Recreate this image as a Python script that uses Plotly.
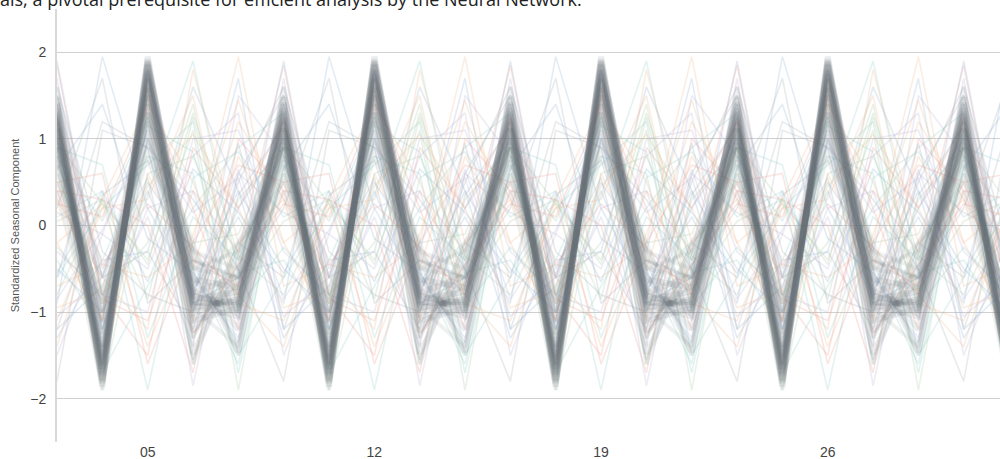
import plotly.graph_objects as go
import pandas as pd

# Trading days shown on the axis (weekends are skipped by a range break)
trade_days = [
    "2018-03-01", "2018-03-02", "2018-03-05", "2018-03-06", "2018-03-07",
    "2018-03-08", "2018-03-09", "2018-03-12", "2018-03-13", "2018-03-14",
    "2018-03-15", "2018-03-16", "2018-03-19", "2018-03-20", "2018-03-21",
    "2018-03-22", "2018-03-23", "2018-03-26", "2018-03-27", "2018-03-28",
    "2018-03-29", "2018-03-30",
]
tick_days = ["2018-03-05", "2018-03-12", "2018-03-19", "2018-03-26"]

# Weekly seasonal profiles, one row per series: [Mon, Tue, Wed, Thu, Fri]
core_profiles = [
    [1.92, -0.88, -0.92, 1.35, -1.78],
    [1.85, -0.80, -0.98, 1.28, -1.72],
    [1.78, -0.95, -0.85, 1.40, -1.65],
    [1.88, -1.02, -0.80, 1.18, -1.82],
    [1.70, -0.75, -1.02, 1.22, -1.60],
    [1.62, -0.86, -0.76, 1.10, -1.52],
    [1.80, -1.48, -0.42, 1.25, -1.70],
    [1.68, -0.38, -1.46, 1.12, -1.62],
    [1.50, -0.82, -0.90, 1.02, -1.40],
    [1.95, -0.92, -1.05, 1.48, -1.86],
    [1.40, -0.62, -0.72, 0.95, -1.25],
    [1.58, -1.22, -0.62, 1.32, -1.55],
    [1.86, -0.60, -1.20, 1.05, -1.74],
    [1.30, -0.78, -0.58, 1.12, -1.12],
    [1.74, -0.90, -0.88, 0.90, -1.66],
    [1.90, -1.10, -0.95, 1.42, -1.80],
]

near_core_profiles = [
    [1.20, -0.40, -0.60, 0.70, -0.90],
    [1.00, -0.50, -0.30, 0.80, -1.00],
    [1.45, -0.30, -1.00, 0.60, -1.10],
    [0.90, -0.70, -0.20, 0.50, -0.60],
    [1.60, -1.60, -0.20, 0.90, -1.50],
    [1.30, -0.20, -1.50, 1.20, -1.40],
    [1.75, -0.50, -0.60, 0.40, -1.45],
    [1.10, -0.90, -0.90, 1.50, -1.30],
    [0.80, -0.30, -0.50, 1.00, -1.00],
    [1.90, -1.30, -0.30, 0.75, -1.90],
    [1.55, -0.95, -1.40, 1.60, -0.80],
    [1.25, -1.10, -0.70, 1.30, -1.60],
]

other_profiles = [
    [0.35, 1.90, -0.55, -0.40, -1.20],
    [-0.60, -0.20, 1.95, -0.70, -0.45],
    [-1.10, 0.40, -0.30, 1.85, -0.85],
    [0.20, -0.75, 0.10, -0.90, 1.95],
    [1.20, -1.85, 0.60, 0.15, -0.10],
    [-0.40, 1.10, -1.90, 0.95, 0.25],
    [0.90, 0.30, -0.50, -1.80, 1.10],
    [-1.90, 0.55, 0.85, 0.10, 0.40],
    [0.60, -0.50, 1.20, 0.30, -1.60],
    [1.50, 0.20, -1.20, 0.40, -0.90],
    [-0.30, 1.60, 0.40, -1.30, -0.40],
    [0.10, -1.40, 1.50, 0.80, -1.00],
    [1.00, -0.20, -0.10, 1.10, -1.80],
    [-0.80, -1.00, 0.50, 1.60, -0.30],
    [0.70, 1.20, -1.50, -0.60, 0.20],
    [-1.20, 1.80, -0.20, 0.30, -0.60],
    [1.70, -0.40, -0.70, 0.50, -1.10],
    [0.40, -0.90, -0.60, 1.90, -0.80],
    [-0.50, 0.80, 1.30, -1.50, -0.10],
    [1.30, -1.60, 0.30, 0.90, -0.90],
    [-0.90, -0.40, -0.60, 0.20, 1.70],
    [0.80, 0.60, -1.70, 0.70, -0.40],
    [1.60, -1.10, 0.80, -0.20, -1.10],
    [-1.50, 0.90, 0.20, 1.20, -0.80],
    [0.50, -0.30, 1.70, -1.20, -0.70],
    [1.10, -0.60, -1.30, 1.40, -0.60],
    [-0.20, 1.40, -1.00, 0.60, -0.80],
    [0.90, -1.30, -0.20, -0.60, 1.20],
    [-0.70, 0.20, 0.90, 1.30, -1.70],
    [1.40, 0.50, -0.80, -1.40, 0.30],
    [0.00, -1.70, 1.00, 0.40, 0.30],
    [1.80, -0.70, 0.40, -0.50, -1.00],
    [-1.00, 1.00, 1.10, -0.30, -0.80],
    [0.60, 0.80, -0.40, 0.90, -1.90],
    [-0.30, -1.20, 0.60, 1.50, -0.60],
    [1.25, -0.50, -1.60, 0.80, 0.05],
    [0.30, 1.50, -0.90, -1.10, 0.20],
    [-1.60, -0.20, 0.70, 0.50, 0.60],
    [1.00, -1.00, 0.20, 1.00, -1.20],
    [0.20, 0.40, -1.10, 1.70, -1.20],
    [-0.45, 1.30, -0.35, -0.80, 0.30],
    [0.75, -0.85, 0.95, -1.20, 0.35],
    [-1.30, 0.10, -0.40, 0.90, 0.70],
    [0.45, 1.05, 0.20, -0.95, -0.75],
    [1.35, -1.25, -0.45, 0.25, 0.10],
    [-0.15, -0.55, -1.35, 0.65, 1.40],
    [0.95, 0.15, 0.55, -1.05, -0.60],
    [-0.85, 1.25, -0.75, 0.05, 0.30],
    [0.55, -1.55, 0.35, 1.15, -0.50],
    [1.15, 0.85, -0.95, -0.25, -0.85],
    [-1.40, -0.10, 1.45, -0.20, 0.25],
    [0.25, -0.25, -0.80, 1.25, -0.45],
    [-0.65, 0.65, 0.15, -0.55, 0.40],
    [1.05, -0.80, 0.65, -0.85, -0.05],
]

other_colors = ["#8ecfc9", "#f4b88a", "#ef9a8e", "#8fb3d3", "#b9b1d8", "#a9c9a4", "#a3acb3"]
core_color = "rgba(98,110,116,0.12)"
near_core_color = "rgba(112,124,130,0.11)"

dates = pd.to_datetime(trade_days)
weekday = dates.weekday  # 0 = Monday ... 4 = Friday


def weekly_series(profile):
    return [profile[d] for d in weekday]


fig = go.Figure()

for i, prof in enumerate(other_profiles):
    fig.add_trace(go.Scatter(
        x=dates, y=weekly_series(prof), mode="lines",
        line=dict(color=other_colors[i % len(other_colors)], width=1.6),
        opacity=0.24, hoverinfo="skip", showlegend=False,
    ))

for prof in near_core_profiles:
    fig.add_trace(go.Scatter(
        x=dates, y=weekly_series(prof), mode="lines",
        line=dict(color=near_core_color, width=4),
        hoverinfo="skip", showlegend=False,
    ))

for prof in core_profiles:
    fig.add_trace(go.Scatter(
        x=dates, y=weekly_series(prof), mode="lines",
        line=dict(color=core_color, width=6),
        hoverinfo="skip", showlegend=False,
    ))

fig.add_annotation(
    text="ais, a pivotal prerequisite for efficient analysis by the Neural Network.",
    xref="paper", yref="paper", x=-57 / 943 - 0.002, y=0.991,
    xanchor="left", yanchor="bottom", showarrow=False,
    font=dict(family="Open Sans", size=18, color="#222222"),
)

fig.update_layout(
    width=1000, height=459,
    margin=dict(l=57, r=0, t=9, b=17),
    paper_bgcolor="white", plot_bgcolor="white",
    font=dict(family="Liberation Sans, Arial", color="#444444"),
    xaxis=dict(
        type="date",
        range=["2018-03-01", "2018-03-29 19:12"],
        rangebreaks=[dict(bounds=["sat", "mon"])],
        tickvals=tick_days, tickformat="%d",
        showgrid=False, showline=False, zeroline=False, ticks="",
        tickfont=dict(size=14, color="#444444"),
    ),
    yaxis=dict(
        range=[-2.5, 2.5], tickvals=[-2, -1, 0, 1, 2],
        showgrid=True, gridcolor="#d0d0d0", gridwidth=1,
        zeroline=False, showline=True, linecolor="#d8d8d8", linewidth=2,
        ticks="outside", ticklen=6, tickcolor="rgba(0,0,0,0)",
        tickfont=dict(size=14, color="#444444"),
        title=dict(text="Standardized Seasonal Component", standoff=8,
                   font=dict(size=11, color="#555555")),
    ),
)

fig.write_html("out.html")
